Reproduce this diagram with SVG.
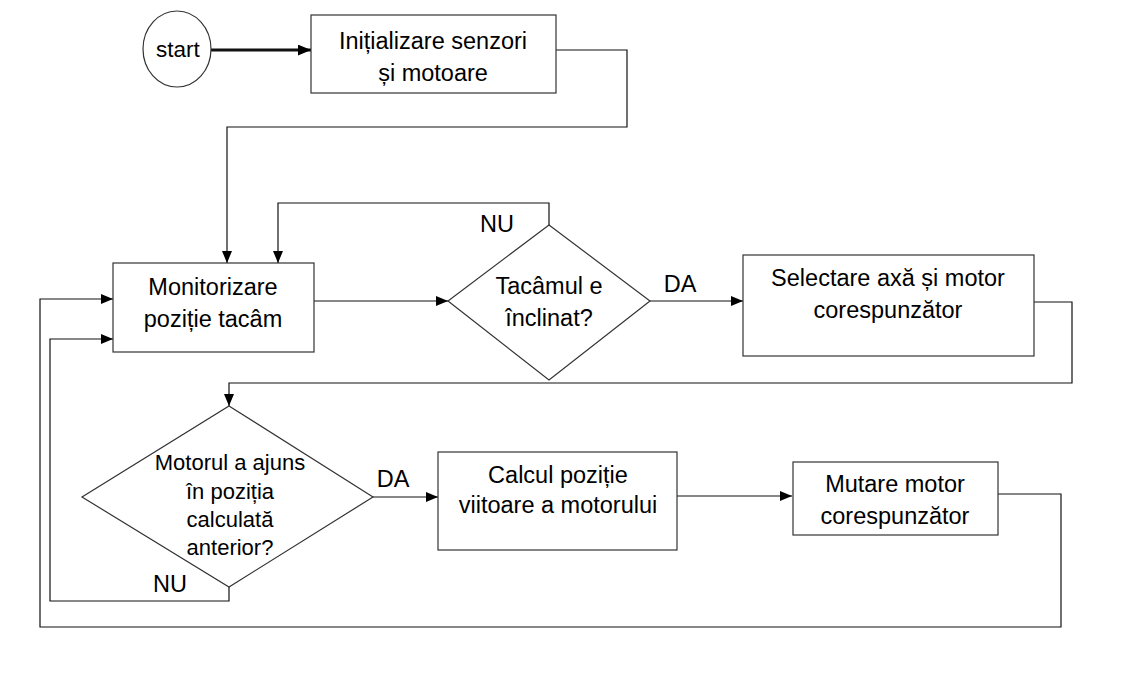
<svg xmlns="http://www.w3.org/2000/svg" width="1121" height="679" viewBox="0 0 1121 679">
<defs>
<marker id="arr" viewBox="0 0 12 10" refX="12" refY="5" markerWidth="12" markerHeight="10" markerUnits="userSpaceOnUse" orient="auto">
<path d="M0,0 L12,5 L0,10 Z" fill="#000"/>
</marker>
<marker id="arrBig" viewBox="0 0 12 10" refX="12" refY="5" markerWidth="13" markerHeight="11" markerUnits="userSpaceOnUse" orient="auto">
<path d="M0,0 L12,5 L0,10 Z" fill="#000"/>
</marker>
</defs>
<style>
.box{fill:#fff;stroke:#333;stroke-width:1.2}
.t{font-family:"Liberation Sans",Arial,sans-serif;font-size:23.5px;fill:#000;text-anchor:middle}
.c{fill:none;stroke:#111;stroke-width:1.2}
</style>
<rect width="1121" height="679" fill="#fff"/>

<g id="connectors">
<path class="c" d="M211,50 L311,50" style="stroke-width:3" marker-end="url(#arrBig)"/>
<path class="c" d="M556,50 L627,50 L627,127 L227,127 L227,263" marker-end="url(#arr)"/>
<path class="c" d="M314,301 L448,301" marker-end="url(#arr)"/>
<path class="c" d="M549,225 L549,203 L278,203 L278,263" marker-end="url(#arr)"/>
<path class="c" d="M650,301 L743,301" marker-end="url(#arr)"/>
<path class="c" d="M1034,302 L1072,302 L1072,383 L229,383 L229,406" marker-end="url(#arr)"/>
<path class="c" d="M373,497 L438,497" marker-end="url(#arr)"/>
<path class="c" d="M677,496 L792,496" marker-end="url(#arr)"/>
<path class="c" d="M998,494 L1061,494 L1061,627 L40,627 L40,299 L113,299" marker-end="url(#arr)"/>
<path class="c" d="M229,587 L229,601 L50,601 L50,339 L113,339" marker-end="url(#arr)"/>
<text class="t" x="497" y="232">NU</text>
<text class="t" x="680" y="292">DA</text>
<text class="t" x="393" y="487">DA</text>
<text class="t" x="170" y="592">NU</text>
</g>

<g id="start">
<ellipse cx="177" cy="49" rx="34" ry="38" fill="#fff" stroke="#333" stroke-width="1.2"/>
<text class="t" x="178" y="57" style="font-size:22.5px">start</text>
</g>

<g id="init">
<rect class="box" x="311" y="15" width="245" height="78"/>
<text class="t" x="433" y="49">Inițializare senzori</text>
<text class="t" x="433" y="81">și motoare</text>
</g>

<g id="monitor">
<rect class="box" x="113" y="263" width="201" height="89"/>
<text class="t" x="213" y="295">Monitorizare</text>
<text class="t" x="213" y="327">poziție tacâm</text>
</g>

<g id="decision1">
<polygon class="box" points="549,225 650,301 549,380 448,301"/>
<text class="t" x="549" y="294">Tacâmul e</text>
<text class="t" x="549" y="326">înclinat?</text>
</g>

<g id="select">
<rect class="box" x="743" y="255" width="291" height="101"/>
<text class="t" x="888" y="286">Selectare axă și motor</text>
<text class="t" x="888" y="318">corespunzător</text>
</g>

<g id="decision2">
<polygon class="box" points="229,406 373,497 229,587 82,497"/>
<text class="t" x="230" y="470" style="font-size:22px">Motorul a ajuns</text>
<text class="t" x="230" y="499" style="font-size:22px">în poziția</text>
<text class="t" x="230" y="527" style="font-size:22px">calculată</text>
<text class="t" x="230" y="555" style="font-size:22px">anterior?</text>
</g>

<g id="calcul">
<rect class="box" x="438" y="452" width="239" height="98"/>
<text class="t" x="558" y="483">Calcul poziție</text>
<text class="t" x="558" y="513">viitoare a motorului</text>
</g>

<g id="mutare">
<rect class="box" x="793" y="462" width="205" height="73"/>
<text class="t" x="895" y="492">Mutare motor</text>
<text class="t" x="895" y="524">corespunzător</text>
</g>
</svg>
